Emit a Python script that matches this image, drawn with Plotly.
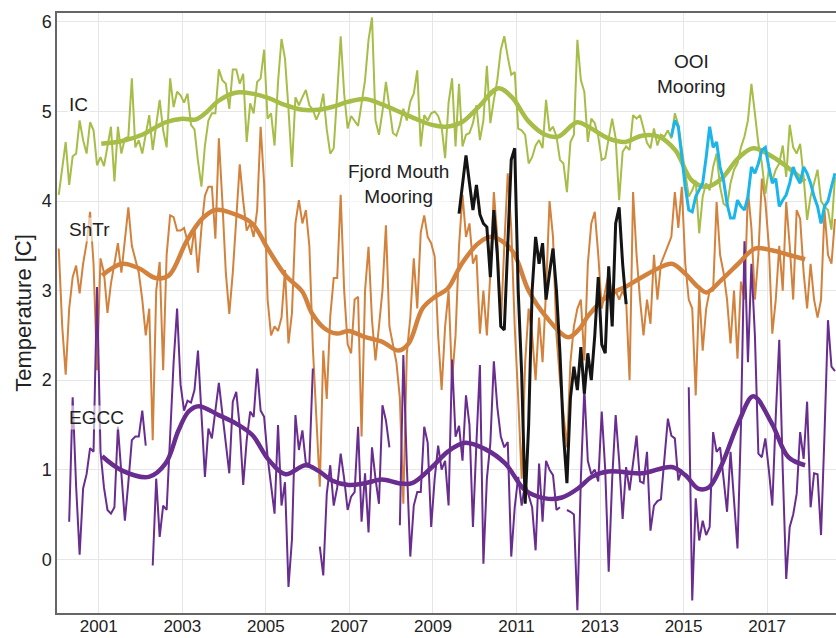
import plotly.graph_objects as go

# ---------------- data (monthly, starting Jan 2000) ----------------
start_year = 2000

ic_monthly = [
    4.07, 4.35, 4.66, 4.18, 4.50, 4.53, 4.90, 4.68, 4.53, 4.88, 4.79, 4.40, 4.49, 4.39, 4.60, 4.83, 4.22, 4.83, 4.53, 4.70,
    4.72, 5.37, 4.60, 4.68, 4.53, 4.75, 4.96, 4.57, 4.85, 5.13, 4.79, 4.60, 5.37, 5.05, 5.22, 5.18, 5.10, 5.20,
    4.85, 4.80, 4.45, 4.16, 4.62, 4.90, 4.98, 4.98, 5.47, 5.35, 5.31, 5.03, 5.47, 5.47, 5.31, 5.42, 4.66, 5.09, 4.98, 5.33,
    5.37, 5.69, 4.92, 4.98, 4.62, 5.33, 5.81, 5.59, 5.03, 4.38, 5.16, 5.07, 5.16, 5.24, 5.07, 5.02, 4.91, 5.00,
    5.20, 4.80, 4.53, 4.59, 5.20, 5.84, 5.20, 4.81, 4.95, 4.89, 4.84, 5.09, 5.35, 5.80, 6.05, 4.90, 4.74, 5.00, 5.33, 5.05,
    4.76, 4.73, 4.85, 5.03, 4.90, 5.11, 5.20, 5.46, 4.61, 4.96, 4.90, 4.98, 5.00, 4.95, 4.83, 4.48, 5.10,
    5.37, 4.61, 5.31, 4.61, 4.74, 4.76, 4.87, 5.07, 4.68, 4.90, 5.51, 4.87, 5.13, 5.35, 5.69, 5.84, 5.61, 5.41, 5.44, 4.81,
    4.79, 4.74, 4.42, 4.49, 4.62, 4.68, 4.59, 5.13, 4.78, 4.83, 4.72, 4.46, 4.42, 4.10, 4.66, 4.74, 5.80,
    5.35, 5.22, 4.66, 4.92, 4.87, 4.72, 4.46, 4.48, 4.72, 4.92, 4.70, 4.01, 4.55, 4.61, 4.57, 4.96, 4.92, 4.96, 4.81, 4.65,
    4.59, 4.81, 4.62, 4.74, 4.72, 4.79, 4.70, 4.98, 4.85, 4.57, 4.35, 4.05, 4.12, 4.23, 3.64, 4.05, 4.20, 4.12,
    4.38, 4.53, 4.16, 3.97, 3.94, 4.20, 4.35, 4.42, 4.60, 4.72, 4.90, 5.31, 4.98, 4.64, 4.42, 4.08, 4.35, 4.23, 4.35, 4.42,
    4.62, 4.27, 4.85, 4.60, 4.53, 4.64, 4.27, 3.79, 4.05, 4.20, 4.35, 4.00, 3.94, 3.90, 3.68, 4.27,
]

shtr_monthly = [
    3.47, 2.60, 2.06, 2.80, 3.15, 3.28, 2.97, 3.30, 3.53, 3.88, 3.30, 2.11, 3.36, 3.20, 2.75, 3.08, 3.30, 3.53, 3.20, 3.60,
    3.93, 3.50, 3.36, 3.20, 2.90, 2.50, 2.80, 1.33, 3.00, 3.32, 2.11, 3.40, 3.84, 3.82, 3.67, 3.67, 3.70, 3.56,
    3.40, 3.70, 3.20, 3.70, 4.06, 4.16, 4.16, 3.58, 4.70, 4.00, 3.20, 2.74, 3.20, 3.80, 4.41, 4.00, 3.67, 3.75, 3.60, 3.90,
    4.83, 4.20, 2.90, 2.50, 2.60, 2.55, 2.70, 3.23, 2.41, 2.75, 3.75, 4.01, 3.75, 3.90, 3.50, 2.37, 1.50, 0.81,
    2.33, 1.79, 2.71, 3.14, 3.14, 4.07, 3.00, 2.40, 2.30, 2.90, 2.93, 1.37, 3.00, 3.49, 2.67, 2.22, 2.60, 3.00, 3.73, 2.60,
    2.40, 2.20, 1.80, 0.62, 2.30, 2.70, 3.36, 2.80, 3.65, 3.84, 3.60, 3.53, 3.38, 2.50, 1.89, 2.60, 3.00,
    2.00, 2.50, 3.50, 4.07, 3.60, 3.75, 3.30, 3.40, 2.52, 3.00, 2.50, 3.20, 4.10, 3.60, 2.60, 3.50, 4.31, 3.70, 2.60, 1.80,
    0.90, 2.20, 2.80, 2.50, 2.00, 2.70, 2.20, 3.00, 4.00, 3.60, 2.50, 2.00, 1.60, 1.25, 2.20, 2.60, 2.80,
    2.90, 2.22, 3.30, 3.75, 3.88, 3.40, 2.80, 3.00, 3.20, 2.90, 3.00, 2.90, 3.00, 2.90, 2.00, 4.10, 3.40, 2.90, 2.50, 2.90,
    2.63, 3.40, 2.90, 3.30, 3.40, 3.50, 3.60, 4.10, 3.70, 4.16, 3.30, 2.90, 2.80, 1.83, 3.00, 2.33, 2.80, 3.00,
    3.00, 3.99, 3.40, 3.20, 2.90, 2.41, 3.00, 2.24, 3.10, 2.90, 4.12, 3.70, 2.90, 3.40, 4.25, 4.00, 3.50, 2.52, 2.90, 3.50,
    3.00, 3.99, 3.50, 2.90, 3.90, 3.80, 3.20, 2.80, 3.30, 2.90, 2.70, 2.90, 3.90, 3.40, 3.30, 3.80,
]

egcc_monthly = [
    None, None, None, 0.42, 1.81, 0.81, 0.05, 0.79, 0.95, 1.24, 1.20, 3.04, 1.20, 0.80, 0.55, 0.51, 0.58, 1.48, 0.96, 0.43,
    0.86, 1.33, 1.37, 1.37, 1.66, 1.27, None, -0.07, 0.90, 0.25, 0.60, 0.55, 1.40, 2.20, 2.80, 1.95, 1.66, 1.77,
    1.75, 1.89, 2.33, 1.60, 0.92, 1.46, 1.35, 1.66, 1.97, 1.63, 1.29, 0.96, 1.76, 1.87, 1.48, 0.83, 1.33, 1.65, 1.59, 2.13,
    1.66, 1.59, 1.14, 0.81, 0.51, 1.50, 0.60, 0.86, -0.31, 0.22, 1.61, 1.22, 1.44, 1.07, 1.07, 2.13, None, 0.14,
    -0.18, 0.73, 1.05, 0.60, 0.80, 1.18, 0.90, 0.55, 0.70, 0.75, 1.48, 0.42, 0.96, 0.30, 1.25, 0.90, 0.62, 1.72, 1.55, 1.25,
    None, None, 0.38, 2.28, 1.05, 0.03, 0.60, 0.75, 0.75, 1.48, 1.30, 0.36, 0.90, 1.27, 1.00, 1.10, 0.60,
    2.23, 1.37, 1.49, 1.10, 1.83, 1.50, 0.36, 1.30, 2.17, -0.05, 0.90, 1.30, 2.21, 1.70, 1.37, 1.25, 1.31, 0.03, 0.58, 0.92,
    0.60, 0.85, 0.70, 0.58, 0.10, 1.07, 0.42, 1.10, 1.00, 0.94, 0.55, 0.58, None, 0.55, 0.53, 0.50, -0.57,
    0.90, 1.91, 1.10, 0.95, 1.00, 0.87, 1.65, 1.00, -0.14, 0.90, 1.61, 1.10, 0.45, 1.03, 0.77, 1.10, 1.38, 0.87, 0.85, 1.20,
    0.32, 0.60, 0.65, 0.67, 1.15, 1.57, 1.38, 1.35, 0.88, 1.00, None, 1.92, -0.46, 0.68, 0.21, 0.43, 0.27, 0.36,
    1.42, 1.20, 1.25, 0.90, 0.53, 1.20, 0.60, 0.12, 1.50, 3.55, 2.20, 3.30, 2.50, 1.18, 1.14, 1.35, 1.00, 0.60, 1.60, 2.45,
    1.00, -0.22, 0.36, 0.50, 0.73, 1.42, 1.12, 1.76, 0.58, 0.96, 0.95, 0.27, 1.40, 2.67, 2.15, 2.10,
]

fjord_start_month = 115
fjord_monthly = [
    3.86, 4.20, 4.51, 4.20, 3.90, 4.18, 3.85, 3.75, 3.71, 3.15, 3.90, 3.40, 2.60, 2.56, 3.50, 4.46, 4.59, 3.00, 2.07, 0.62,
    1.50, 3.00, 3.60, 3.30, 3.53, 2.90, 3.20, 3.47, 3.00, 2.30, 1.40, 0.85, 1.80, 2.15, 1.89, 2.37, 1.85, 2.30, 2.00, 2.50,
    3.15, 2.40, 2.30, 3.27, 2.60, 3.75, 3.93, 3.30, 2.85,
]

ooi_start_month = 176
ooi_monthly = [
    4.72, 4.90, 4.83, 4.49, 4.16, 3.90, 3.88, 4.05, 4.12, 4.20, 4.49, 4.83, 4.60, 4.66, 4.38, 4.23, 3.97, 3.81, 3.81, 4.01,
    3.94, 3.90, 4.05, 4.38, 4.31, 4.42, 4.57, 4.60, 4.38, 4.20, 4.25, 3.94, 4.01, 4.07, 4.20, 4.38, 4.27, 4.20, 4.38, 4.31,
    4.20, 4.05, 3.94, 3.75, 3.94, 4.00, 4.16, 4.31,
]

# smoothed curves (decimal year, value)
ic_smooth_years = [2001.06, 2001.56, 2002.04, 2002.6, 2003.0, 2003.31, 2003.55, 2003.87, 2004.27, 2004.67, 2005.07,
                   2005.47, 2005.87, 2006.26, 2006.58, 2006.98, 2007.38, 2007.78, 2008.18, 2008.58, 2008.98, 2009.3,
                   2009.69, 2010.09, 2010.57, 2010.89, 2011.29, 2011.69, 2012.0, 2012.45, 2012.72, 2013.2, 2013.6,
                   2014.0, 2014.4, 2014.8, 2015.2, 2015.55, 2015.91, 2016.31, 2016.67, 2017.11, 2017.51, 2017.91]
ic_smooth_vals = [4.64, 4.67, 4.74, 4.88, 4.92, 4.91, 4.98, 5.12, 5.21, 5.20, 5.15,
                  5.07, 5.02, 5.02, 5.05, 5.11, 5.14, 5.08, 5.00, 4.92, 4.85, 4.83,
                  4.88, 5.05, 5.26, 5.16, 4.89, 4.74, 4.72, 4.88, 4.83, 4.70, 4.66,
                  4.73, 4.72, 4.57, 4.23, 4.16, 4.25, 4.48, 4.59, 4.50, 4.37, 4.22]

shtr_smooth_years = [2001.08, 2001.56, 2001.96, 2002.36, 2002.68, 2003.1, 2003.47, 2003.79, 2004.27, 2004.67, 2005.07,
                     2005.47, 2005.87, 2006.1, 2006.4, 2006.7, 2006.98, 2007.38, 2007.78, 2008.18, 2008.42, 2008.75,
                     2009.05, 2009.35, 2009.69, 2010.09, 2010.41, 2010.89, 2011.29, 2011.69, 2012.24, 2012.52, 2012.72,
                     2013.2, 2013.6, 2014.0, 2014.4, 2014.72, 2015.04, 2015.35, 2015.55, 2015.91, 2016.31, 2016.71,
                     2017.11, 2017.51, 2017.91]
shtr_smooth_vals = [3.17, 3.30, 3.25, 3.14, 3.17, 3.55, 3.80, 3.90, 3.85, 3.75, 3.45,
                    3.17, 2.99, 2.75, 2.58, 2.52, 2.55, 2.48, 2.43, 2.33, 2.41, 2.80,
                    2.93, 3.02, 3.30, 3.53, 3.60, 3.45, 3.00, 2.72, 2.48, 2.58, 2.72,
                    2.95, 3.04, 3.15, 3.25, 3.30, 3.19, 3.04, 2.98, 3.12, 3.30, 3.47,
                    3.45, 3.40, 3.35]

egcc_smooth_years = [2001.08, 2001.56, 2002.2, 2002.6, 2002.91, 2003.15, 2003.39, 2003.87, 2004.27, 2004.67, 2005.07,
                     2005.47, 2005.95, 2006.25, 2006.58, 2006.98, 2007.38, 2007.78, 2008.18, 2008.5, 2008.98, 2009.35,
                     2009.77, 2010.25, 2010.73, 2011.21, 2011.69, 2012.09, 2012.5, 2012.8, 2013.2, 2014.0, 2014.72,
                     2015.04, 2015.35, 2015.6, 2015.91, 2016.31, 2016.67, 2017.11, 2017.51, 2017.91]
egcc_smooth_vals = [1.15, 0.99, 0.92, 1.07, 1.44, 1.65, 1.71, 1.61, 1.52, 1.39, 1.11,
                    0.95, 1.05, 0.99, 0.88, 0.83, 0.85, 0.89, 0.85, 0.85, 1.03, 1.20,
                    1.30, 1.23, 1.07, 0.77, 0.68, 0.69, 0.80, 0.92, 0.98, 0.96, 1.03,
                    0.94, 0.79, 0.80, 1.05, 1.52, 1.82, 1.52, 1.14, 1.05]

x_tick_vals = [2001, 2003, 2005, 2007, 2009, 2011, 2013, 2015, 2017]
x_tick_text = ["2001", "2003", "2005", "2007", "2009", "2011", "2013", "2015", "2017"]
y_tick_vals = [0, 1, 2, 3, 4, 5, 6]


def month_times(n, offset=0):
    return [start_year + (offset + i + 0.5) / 12 for i in range(n)]


# ---------------- styles ----------------
GREEN = "#a6bd48"
ORANGE = "#d2823d"
PURPLE = "#682d8f"
BLACK = "#141414"
BLUE = "#1cb5ea"

fig = go.Figure()

fig.add_trace(go.Scatter(x=month_times(len(shtr_monthly)), y=shtr_monthly, mode="lines",
                         line=dict(color=ORANGE, width=2), connectgaps=False, hoverinfo="skip"))
fig.add_trace(go.Scatter(x=month_times(len(ic_monthly)), y=ic_monthly, mode="lines",
                         line=dict(color=GREEN, width=2), connectgaps=False, hoverinfo="skip"))
fig.add_trace(go.Scatter(x=month_times(len(egcc_monthly)), y=egcc_monthly, mode="lines",
                         line=dict(color=PURPLE, width=2), connectgaps=False, hoverinfo="skip"))

fig.add_trace(go.Scatter(x=ic_smooth_years, y=ic_smooth_vals, mode="lines",
                         line=dict(color=GREEN, width=4.5, shape="spline", smoothing=1.0), hoverinfo="skip"))
fig.add_trace(go.Scatter(x=shtr_smooth_years, y=shtr_smooth_vals, mode="lines",
                         line=dict(color=ORANGE, width=4.5, shape="spline", smoothing=1.0), hoverinfo="skip"))
fig.add_trace(go.Scatter(x=egcc_smooth_years, y=egcc_smooth_vals, mode="lines",
                         line=dict(color=PURPLE, width=4.5, shape="spline", smoothing=1.0), hoverinfo="skip"))

fig.add_trace(go.Scatter(x=month_times(len(fjord_monthly), fjord_start_month), y=fjord_monthly, mode="lines",
                         line=dict(color=BLACK, width=3), hoverinfo="skip"))
fig.add_trace(go.Scatter(x=month_times(len(ooi_monthly), ooi_start_month), y=ooi_monthly, mode="lines",
                         line=dict(color=BLUE, width=3), hoverinfo="skip"))

FONT = "Arial, Liberation Sans, sans-serif"
TXT = "#222222"
label_font = dict(family=FONT, size=19, color=TXT)
halo = "rgba(255,255,255,0.6)"

fig.add_annotation(x=2000.25, y=5.08, text="IC", showarrow=False, xanchor="left", yanchor="middle",
                   font=label_font, bgcolor=halo)
fig.add_annotation(x=2000.25, y=3.68, text="ShTr", showarrow=False, xanchor="left", yanchor="middle",
                   font=label_font, bgcolor=halo)
fig.add_annotation(x=2000.25, y=1.58, text="EGCC", showarrow=False, xanchor="left", yanchor="middle",
                   font=label_font, bgcolor=halo)
fig.add_annotation(x=2008.17, y=4.19, text="Fjord Mouth<br>Mooring", showarrow=False, xanchor="center",
                   yanchor="middle", font=label_font, align="center", bgcolor=halo)
fig.add_annotation(x=2015.18, y=5.42, text="OOI<br>Mooring", showarrow=False, xanchor="center",
                   yanchor="middle", font=label_font, align="center", bgcolor=halo)

fig.update_layout(
    width=836, height=638,
    margin=dict(l=57, r=0, t=13, b=25),
    paper_bgcolor="white", plot_bgcolor="white",
    showlegend=False,
    font=dict(family=FONT, color=TXT),
    xaxis=dict(range=[2000.0, 2018.65], tickvals=x_tick_vals, ticktext=x_tick_text,
               showgrid=True, gridcolor="#e6e6e6", gridwidth=1, zeroline=False,
               showline=True, linecolor="#666666", linewidth=1.5, mirror=True,
               ticks="", ticklabelstandoff=-3,
               tickfont=dict(family=FONT, size=17, color=TXT), automargin=False),
    yaxis=dict(range=[-0.6, 6.1], tickvals=y_tick_vals,
               showgrid=True, gridcolor="#e6e6e6", gridwidth=1, zeroline=False,
               showline=True, linecolor="#666666", linewidth=1.5,
               ticks="", tickfont=dict(family=FONT, size=18, color=TXT), automargin=False,
               title=dict(text="Temperature [C]", font=dict(family=FONT, size=22, color=TXT), standoff=4)),
)

fig.write_html("out.html", config={"displayModeBar": False},
               post_script="document.body.style.margin='0';document.body.style.overflow='hidden';")
